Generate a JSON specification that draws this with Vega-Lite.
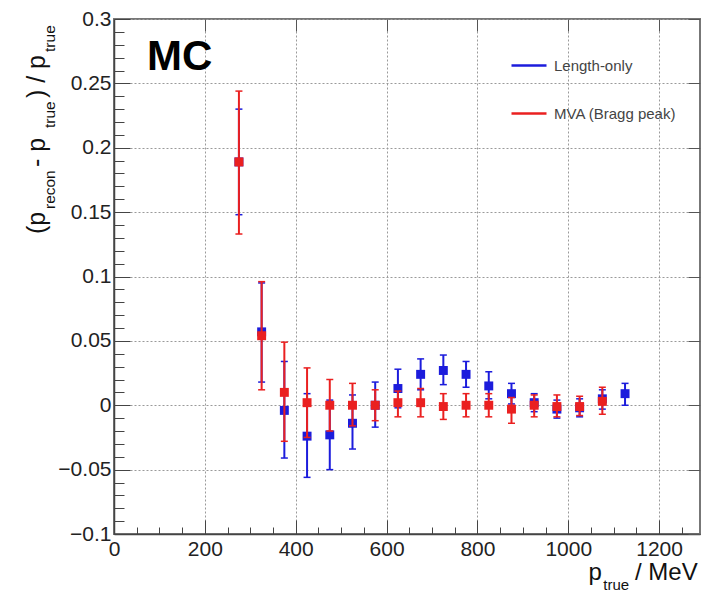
{
  "$schema": "https://vega.github.io/schema/vega-lite/v6.json",
  "width": 586,
  "height": 515,
  "autosize": "none",
  "padding": {"left": 114, "top": 19, "right": 25, "bottom": 59},
  "background": "white",
  "config": {
    "font": "Liberation Sans",
    "view": {"stroke": "#777", "strokeWidth": 2},
    "text": {"font": "Liberation Sans"}
  },
  "datasets": {
    "points": [
      {"series": "Length-only", "x": 275, "y": 0.189, "lo": 0.148, "hi": 0.230},
      {"series": "Length-only", "x": 325, "y": 0.057, "lo": 0.018, "hi": 0.095},
      {"series": "Length-only", "x": 375, "y": -0.004, "lo": -0.041, "hi": 0.034},
      {"series": "Length-only", "x": 425, "y": -0.024, "lo": -0.056, "hi": 0.009},
      {"series": "Length-only", "x": 475, "y": -0.023, "lo": -0.050, "hi": 0.004},
      {"series": "Length-only", "x": 525, "y": -0.014, "lo": -0.034, "hi": 0.008},
      {"series": "Length-only", "x": 575, "y": 0.000, "lo": -0.017, "hi": 0.018},
      {"series": "Length-only", "x": 625, "y": 0.013, "lo": -0.002, "hi": 0.028},
      {"series": "Length-only", "x": 675, "y": 0.024, "lo": 0.012, "hi": 0.036},
      {"series": "Length-only", "x": 725, "y": 0.027, "lo": 0.016, "hi": 0.039},
      {"series": "Length-only", "x": 775, "y": 0.024, "lo": 0.014, "hi": 0.034},
      {"series": "Length-only", "x": 825, "y": 0.015, "lo": 0.005, "hi": 0.026},
      {"series": "Length-only", "x": 875, "y": 0.009, "lo": 0.001, "hi": 0.017},
      {"series": "Length-only", "x": 925, "y": 0.002, "lo": -0.005, "hi": 0.009},
      {"series": "Length-only", "x": 975, "y": -0.003, "lo": -0.010, "hi": 0.004},
      {"series": "Length-only", "x": 1025, "y": -0.002, "lo": -0.009, "hi": 0.005},
      {"series": "Length-only", "x": 1075, "y": 0.005, "lo": -0.003, "hi": 0.012},
      {"series": "Length-only", "x": 1125, "y": 0.009, "lo": 0.000, "hi": 0.017},
      {"series": "MVA (Bragg peak)", "x": 275, "y": 0.189, "lo": 0.133, "hi": 0.244},
      {"series": "MVA (Bragg peak)", "x": 325, "y": 0.054, "lo": 0.012, "hi": 0.096},
      {"series": "MVA (Bragg peak)", "x": 375, "y": 0.010, "lo": -0.028, "hi": 0.049},
      {"series": "MVA (Bragg peak)", "x": 425, "y": 0.002, "lo": -0.025, "hi": 0.029},
      {"series": "MVA (Bragg peak)", "x": 475, "y": 0.000, "lo": -0.020, "hi": 0.020},
      {"series": "MVA (Bragg peak)", "x": 525, "y": 0.000, "lo": -0.016, "hi": 0.017},
      {"series": "MVA (Bragg peak)", "x": 575, "y": 0.000, "lo": -0.012, "hi": 0.012},
      {"series": "MVA (Bragg peak)", "x": 625, "y": 0.002, "lo": -0.009, "hi": 0.011},
      {"series": "MVA (Bragg peak)", "x": 675, "y": 0.002, "lo": -0.009, "hi": 0.013},
      {"series": "MVA (Bragg peak)", "x": 725, "y": -0.001, "lo": -0.011, "hi": 0.009},
      {"series": "MVA (Bragg peak)", "x": 775, "y": 0.000, "lo": -0.009, "hi": 0.009},
      {"series": "MVA (Bragg peak)", "x": 825, "y": 0.000, "lo": -0.009, "hi": 0.009},
      {"series": "MVA (Bragg peak)", "x": 875, "y": -0.003, "lo": -0.014, "hi": 0.006},
      {"series": "MVA (Bragg peak)", "x": 925, "y": 0.000, "lo": -0.009, "hi": 0.008},
      {"series": "MVA (Bragg peak)", "x": 975, "y": -0.001, "lo": -0.009, "hi": 0.008},
      {"series": "MVA (Bragg peak)", "x": 1025, "y": -0.001, "lo": -0.008, "hi": 0.007},
      {"series": "MVA (Bragg peak)", "x": 1075, "y": 0.003, "lo": -0.007, "hi": 0.014}
    ],
    "mc": [{"x": 72.6, "y": 0.2604, "label": "MC"}],
    "xTitleMain": [
      {"x": 1044.5, "y": -0.1357, "label": "p"},
      {"x": 1146.8, "y": -0.1357, "label": "/ MeV"}
    ],
    "xTitleSub": [{"x": 1077.1, "y": -0.1435, "label": "true"}],
    "yTitleMain": [
      {"x": -151.9, "y": 0.1330, "label": "(p"},
      {"x": -151.9, "y": 0.1850, "label": " - p"},
      {"x": -151.9, "y": 0.2386, "label": ") / p"}
    ],
    "yTitleSub": [
      {"x": -129.9, "y": 0.1524, "label": "recon"},
      {"x": -129.9, "y": 0.2153, "label": "true"},
      {"x": -129.9, "y": 0.2744, "label": "true"}
    ]
  },
  "resolve": {
    "scale": {"x": "independent", "y": "independent"},
    "axis": {"x": "independent", "y": "independent"}
  },
  "layer": [
    {
      "data": {"name": "points"},
      "encoding": {
        "x": {
          "field": "x", "type": "quantitative",
          "scale": {"domain": [0, 1290], "nice": false, "zero": false},
          "axis": {
            "orient": "bottom", "values": [0, 200, 400, 600, 800, 1000, 1200], "format": "d",
            "ticks": false, "labels": true, "labelFontSize": 21, "labelColor": "#222",
            "labelPadding": 4, "labelFlush": false, "labelOverlap": false, "labelBound": false,
            "grid": true, "gridColor": "#9a9a9a", "gridDash": [2, 2], "gridWidth": 1,
            "domain": true, "domainColor": "#444", "domainWidth": 1.5, "title": null
          }
        },
        "color": {
          "field": "series", "type": "nominal",
          "scale": {"domain": ["Length-only", "MVA (Bragg peak)"], "range": ["#1c1cdc", "#ea2020"]},
          "legend": {
            "orient": "none", "legendX": 396, "legendY": 27.5, "title": null,
            "symbolType": "stroke", "symbolSize": 1225, "symbolStrokeWidth": 2.5,
            "labelFontSize": 15, "labelColor": "#444", "labelOffset": 6, "rowPadding": 21,
            "padding": 0,
            "encode": {"symbols": {"update": {"stroke": {"scale": "color", "field": "value"}, "fill": {"value": "transparent"}}}}
          }
        }
      },
      "layer": [
        {
          "transform": [{"filter": "datum.series === 'Length-only'"}],
          "layer": [
            {
              "mark": {"type": "rule", "strokeWidth": 2},
              "encoding": {
                "y": {"field": "lo", "type": "quantitative", "scale": {"domain": [-0.1, 0.3], "nice": false, "zero": false},
                  "axis": {"orient": "left", "values": [-0.1, -0.05, 0, 0.05, 0.1, 0.15, 0.2, 0.25, 0.3], "format": "~g", "ticks": false, "labelFontSize": 21, "labelColor": "#222", "labelPadding": 3, "labelFlush": false, "labelOverlap": false, "labelBound": false, "grid": true, "gridColor": "#9a9a9a", "gridDash": [2, 2], "gridWidth": 1, "domain": true, "domainColor": "#444", "domainWidth": 1.5, "title": null}},
                "y2": {"field": "hi"}
              }
            },
            {
              "mark": {"type": "tick", "orient": "horizontal", "size": 7, "thickness": 1.5, "opacity": 1},
              "encoding": {"y": {"field": "lo", "type": "quantitative", "scale": {"domain": [-0.1, 0.3], "nice": false, "zero": false},
                  "axis": {"orient": "left", "values": [-0.1, -0.05, 0, 0.05, 0.1, 0.15, 0.2, 0.25, 0.3], "format": "~g", "ticks": false, "labelFontSize": 21, "labelColor": "#222", "labelPadding": 3, "labelFlush": false, "labelOverlap": false, "labelBound": false, "grid": true, "gridColor": "#9a9a9a", "gridDash": [2, 2], "gridWidth": 1, "domain": true, "domainColor": "#444", "domainWidth": 1.5, "title": null}}}
            },
            {
              "mark": {"type": "tick", "orient": "horizontal", "size": 7, "thickness": 1.5, "opacity": 1},
              "encoding": {"y": {"field": "hi", "type": "quantitative", "scale": {"domain": [-0.1, 0.3], "nice": false, "zero": false},
                  "axis": {"orient": "left", "values": [-0.1, -0.05, 0, 0.05, 0.1, 0.15, 0.2, 0.25, 0.3], "format": "~g", "ticks": false, "labelFontSize": 21, "labelColor": "#222", "labelPadding": 3, "labelFlush": false, "labelOverlap": false, "labelBound": false, "grid": true, "gridColor": "#9a9a9a", "gridDash": [2, 2], "gridWidth": 1, "domain": true, "domainColor": "#444", "domainWidth": 1.5, "title": null}}}
            },
            {
              "mark": {"type": "square", "size": 80, "opacity": 1},
              "encoding": {"y": {"field": "y", "type": "quantitative", "scale": {"domain": [-0.1, 0.3], "nice": false, "zero": false},
                  "axis": {"orient": "left", "values": [-0.1, -0.05, 0, 0.05, 0.1, 0.15, 0.2, 0.25, 0.3], "format": "~g", "ticks": false, "labelFontSize": 21, "labelColor": "#222", "labelPadding": 3, "labelFlush": false, "labelOverlap": false, "labelBound": false, "grid": true, "gridColor": "#9a9a9a", "gridDash": [2, 2], "gridWidth": 1, "domain": true, "domainColor": "#444", "domainWidth": 1.5, "title": null}}}
            }
          ]
        },
        {
          "transform": [{"filter": "datum.series === 'MVA (Bragg peak)'"}],
          "layer": [
            {
              "mark": {"type": "rule", "strokeWidth": 2, "opacity": 1},
              "encoding": {
                "y": {"field": "lo", "type": "quantitative", "scale": {"domain": [-0.1, 0.3], "nice": false, "zero": false},
                  "axis": {"orient": "left", "values": [-0.1, -0.05, 0, 0.05, 0.1, 0.15, 0.2, 0.25, 0.3], "format": "~g", "ticks": false, "labelFontSize": 21, "labelColor": "#222", "labelPadding": 3, "labelFlush": false, "labelOverlap": false, "labelBound": false, "grid": true, "gridColor": "#9a9a9a", "gridDash": [2, 2], "gridWidth": 1, "domain": true, "domainColor": "#444", "domainWidth": 1.5, "title": null}},
                "y2": {"field": "hi"}
              }
            },
            {
              "mark": {"type": "tick", "orient": "horizontal", "size": 7, "thickness": 1.5, "opacity": 1},
              "encoding": {"y": {"field": "lo", "type": "quantitative", "scale": {"domain": [-0.1, 0.3], "nice": false, "zero": false},
                  "axis": {"orient": "left", "values": [-0.1, -0.05, 0, 0.05, 0.1, 0.15, 0.2, 0.25, 0.3], "format": "~g", "ticks": false, "labelFontSize": 21, "labelColor": "#222", "labelPadding": 3, "labelFlush": false, "labelOverlap": false, "labelBound": false, "grid": true, "gridColor": "#9a9a9a", "gridDash": [2, 2], "gridWidth": 1, "domain": true, "domainColor": "#444", "domainWidth": 1.5, "title": null}}}
            },
            {
              "mark": {"type": "tick", "orient": "horizontal", "size": 7, "thickness": 1.5, "opacity": 1},
              "encoding": {"y": {"field": "hi", "type": "quantitative", "scale": {"domain": [-0.1, 0.3], "nice": false, "zero": false},
                  "axis": {"orient": "left", "values": [-0.1, -0.05, 0, 0.05, 0.1, 0.15, 0.2, 0.25, 0.3], "format": "~g", "ticks": false, "labelFontSize": 21, "labelColor": "#222", "labelPadding": 3, "labelFlush": false, "labelOverlap": false, "labelBound": false, "grid": true, "gridColor": "#9a9a9a", "gridDash": [2, 2], "gridWidth": 1, "domain": true, "domainColor": "#444", "domainWidth": 1.5, "title": null}}}
            },
            {
              "mark": {"type": "square", "size": 80, "opacity": 1},
              "encoding": {"y": {"field": "y", "type": "quantitative", "scale": {"domain": [-0.1, 0.3], "nice": false, "zero": false},
                  "axis": {"orient": "left", "values": [-0.1, -0.05, 0, 0.05, 0.1, 0.15, 0.2, 0.25, 0.3], "format": "~g", "ticks": false, "labelFontSize": 21, "labelColor": "#222", "labelPadding": 3, "labelFlush": false, "labelOverlap": false, "labelBound": false, "grid": true, "gridColor": "#9a9a9a", "gridDash": [2, 2], "gridWidth": 1, "domain": true, "domainColor": "#444", "domainWidth": 1.5, "title": null}}}
            }
          ]
        }
      ]
    },
    {
      "data": {"name": "mc"},
      "mark": {"type": "text", "fontSize": 42, "fontWeight": "bold", "align": "left", "baseline": "alphabetic", "color": "#000"},
      "encoding": {
        "x": {
          "field": "x", "type": "quantitative",
          "scale": {"domain": [0, 1290], "nice": false, "zero": false},
          "axis": {
            "orient": "bottom",
            "values": [50, 100, 150, 250, 300, 350, 450, 500, 550, 650, 700, 750, 850, 900, 950, 1050, 1100, 1150, 1250],
            "labels": false, "grid": false, "domain": false, "ticks": true, "tickSize": -7, "tickColor": "#444", "tickWidth": 1, "title": null
          }
        },
        "y": {
          "field": "y", "type": "quantitative",
          "scale": {"domain": [-0.1, 0.3], "nice": false, "zero": false},
          "axis": {
            "orient": "left",
            "values": [-0.09, -0.08, -0.07, -0.06, -0.04, -0.03, -0.02, -0.01, 0.01, 0.02, 0.03, 0.04, 0.06, 0.07, 0.08, 0.09, 0.11, 0.12, 0.13, 0.14, 0.16, 0.17, 0.18, 0.19, 0.21, 0.22, 0.23, 0.24, 0.26, 0.27, 0.28, 0.29],
            "labels": false, "grid": false, "domain": false, "ticks": true, "tickSize": -10, "tickColor": "#444", "tickWidth": 1, "title": null
          }
        },
        "text": {"field": "label"}
      }
    },
    {
      "data": {"name": "xTitleMain"},
      "mark": {"type": "text", "fontSize": 24, "align": "left", "baseline": "alphabetic", "color": "#111"},
      "encoding": {
        "x": {
          "field": "x", "type": "quantitative",
          "scale": {"domain": [0, 1290], "nice": false, "zero": false},
          "axis": {
            "orient": "bottom", "values": [0, 200, 400, 600, 800, 1000, 1200],
            "labels": false, "grid": false, "domain": false, "ticks": true, "tickSize": -14, "tickColor": "#444", "tickWidth": 1, "title": null
          }
        },
        "y": {
          "field": "y", "type": "quantitative",
          "scale": {"domain": [-0.1, 0.3], "nice": false, "zero": false},
          "axis": {
            "orient": "left", "values": [-0.1, -0.05, 0, 0.05, 0.1, 0.15, 0.2, 0.25, 0.3],
            "labels": false, "grid": false, "domain": false, "ticks": true, "tickSize": -16, "tickColor": "#444", "tickWidth": 1, "title": null
          }
        },
        "text": {"field": "label"}
      }
    },
    {
      "data": {"name": "xTitleSub"},
      "mark": {"type": "text", "fontSize": 15, "align": "left", "baseline": "alphabetic", "color": "#111"},
      "encoding": {
        "x": {
          "field": "x", "type": "quantitative",
          "scale": {"domain": [0, 1290], "nice": false, "zero": false},
          "axis": {
            "orient": "top", "values": [0, 200, 400, 600, 800, 1000, 1200],
            "labels": false, "grid": false, "domain": false, "ticks": true, "tickSize": -12, "tickColor": "#555", "tickWidth": 1, "title": null
          }
        },
        "y": {
          "field": "y", "type": "quantitative",
          "scale": {"domain": [-0.1, 0.3], "nice": false, "zero": false},
          "axis": {
            "orient": "right", "values": [-0.1, -0.05, 0, 0.05, 0.1, 0.15, 0.2, 0.25, 0.3],
            "labels": false, "grid": false, "domain": false, "ticks": true, "tickSize": -12, "tickColor": "#555", "tickWidth": 1, "title": null
          }
        },
        "text": {"field": "label"}
      }
    },
    {
      "data": {"name": "yTitleMain"},
      "mark": {"type": "text", "fontSize": 25, "angle": 270, "align": "left", "baseline": "alphabetic", "color": "#111"},
      "encoding": {
        "x": {"field": "x", "type": "quantitative", "scale": {"domain": [0, 1290], "nice": false, "zero": false}, "axis": null},
        "y": {"field": "y", "type": "quantitative", "scale": {"domain": [-0.1, 0.3], "nice": false, "zero": false}, "axis": null},
        "text": {"field": "label"}
      }
    },
    {
      "data": {"name": "yTitleSub"},
      "mark": {"type": "text", "fontSize": 15.5, "angle": 270, "align": "left", "baseline": "alphabetic", "color": "#111"},
      "encoding": {
        "x": {"field": "x", "type": "quantitative", "scale": {"domain": [0, 1290], "nice": false, "zero": false}, "axis": null},
        "y": {"field": "y", "type": "quantitative", "scale": {"domain": [-0.1, 0.3], "nice": false, "zero": false}, "axis": null},
        "text": {"field": "label"}
      }
    }
  ]
}
